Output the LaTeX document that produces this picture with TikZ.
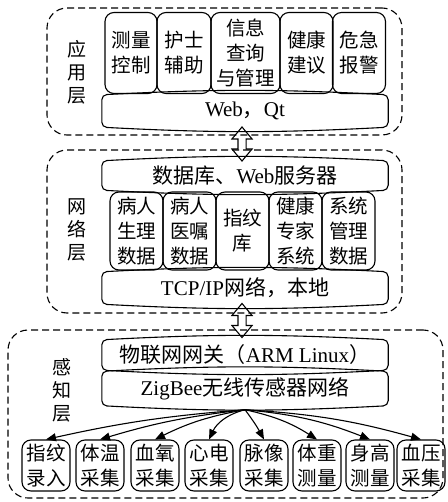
\documentclass[tikz,border=0pt]{standalone}
\usepackage{fontspec}
\setmainfont{Liberation Serif}
\newfontfamily\cjk{Noto Sans CJK SC}
\usetikzlibrary{shapes.arrows,arrows.meta}

\tikzset{
  layer/.style={draw,dash pattern=on 7pt off 4pt,line width=1.1pt,rounded corners=20pt,inner sep=0pt},
  tag/.style={align=center,inner sep=0pt,font=\cjk\fontsize{19}{23}\selectfont},
  box/.style={draw,line width=1.1pt,rounded corners=9pt,align=center,inner sep=0pt,
    font=\cjk\fontsize{19.5}{25}\selectfont},
  bar/.style={inner sep=0pt,minimum width=286pt,font=\fontsize{21}{24}\selectfont},
  updown/.style={draw,line width=1.1pt,shape=double arrow,rotate=90,inner sep=3.5pt,
    double arrow head extend=6pt,double arrow tip angle=80,minimum height=34pt},
}

% bar outline with bulged top and bottom
\newcommand\drawbar[1]{%
  \draw[line width=1.1pt,rounded corners=5pt] (#1.west) -- (#1.north west)
    to[bend left=3] (#1.north east) -- (#1.south east)
    to[bend left=3] (#1.south west) -- cycle;}

\begin{document}
\begin{tikzpicture}[x=1pt,y=-1pt]

  \useasboundingbox (0,0) rectangle (447,502);

  % three layers
  \begin{scope}[every node/.style={layer}]
    \node (app) at (224.5,71.5) [minimum width=355pt,minimum height=127pt] {};
    \node (net) at (224.5,231.5) [minimum width=355pt,minimum height=163pt] {};
    \node (sen) at (225.5,414) [minimum width=435pt,minimum height=168pt] {};
  \end{scope}

  \begin{scope}[every node/.style={tag}]
    \node (appt) at (77,72) {应\\用\\层};
    \node (nett) at (77,230) {网\\络\\层};
    \node (sent) at (62,390) {感\\知\\层};
  \end{scope}

  % application layer
  \begin{scope}[every node/.style={box,minimum height=81pt}]
    \node (a1) at (131,53) [minimum width=52pt] {测量\\控制};
    \node (a2) at (184,53) [minimum width=54pt] {护士\\辅助};
    \node (a3) at (245.5,53) [minimum width=69pt] {信息\\查询\\与管理};
    \node (a4) at (306.5,53) [minimum width=53pt] {健康\\建议};
    \node (a5) at (359,53) [minimum width=53pt] {危急\\报警};
  \end{scope}

  \node[bar,minimum height=32pt] (web) at (245,111) {Web{\cjk ，}Qt};
  \drawbar{web}

  % network layer
  \node[bar,minimum height=29pt] (db) at (245,175.5) {{\cjk 数据库、}Web{\cjk 服务器}};
  \drawbar{db}

  \begin{scope}[every node/.style={box,minimum height=78pt,minimum width=53pt}]
    \node (n1) at (136.5,231) {病人\\生理\\数据};
    \node (n2) at (189.5,231) {病人\\医嘱\\数据};
    \node (n3) at (242.5,231) {指纹\\库};
    \node (n4) at (295.5,231) {健康\\专家\\系统};
    \node (n5) at (348.5,231) {系统\\管理\\数据};
  \end{scope}

  \node[bar,minimum height=32pt] (tcp) at (245,288) {TCP/IP{\cjk 网络，本地}};
  \drawbar{tcp}

  % sensing layer
  \node[bar,minimum height=30pt] (gw) at (245,355) {{\cjk 物联网网关（}ARM Linux{\cjk ）}};
  \drawbar{gw}
  \node[bar,minimum height=34pt] (zb) at (245,388.5) {ZigBee{\cjk 无线传感器网络}};
  \drawbar{zb}

  \begin{scope}[every node/.style={box,minimum height=51pt,minimum width=48pt}]
    \node (s1) at (46,465.5) {指纹\\录入};
    \node (s2) at (100,465.5) {体温\\采集};
    \node (s3) at (155,465.5) {血氧\\采集};
    \node (s4) at (209,465.5) {心电\\采集};
    \node (s5) at (264,465.5) {脉像\\采集};
    \node (s6) at (317,465.5) {体重\\测量};
    \node (s7) at (370,465.5) {身高\\测量};
    \node (s8) at (421,465.5) {血压\\采集};
  \end{scope}

  % links between layers
  \node[updown] (up1) at (242,144) {};
  \node[updown] (up2) at (242,320.5) {};

  \coordinate (hub) at ([yshift=-4pt]zb.south);
  \begin{scope}[line width=1.1pt,-{Triangle[length=10pt,width=8pt]}]
    \path (hub) edge[bend right=4] (s1.north);
    \path (hub) edge[bend right=5] (s2.north);
    \path (hub) edge[bend right=8] (s3.north);
    \path (hub) edge[bend right=25] (s4.north);
    \path (hub) edge[bend left=4] (s5.north);
    \path (hub) edge[bend left=10] (s6.north);
    \path (hub) edge[bend left=8] (s7.north);
    \path (hub) edge[bend left=6] (s8.north);
  \end{scope}

\end{tikzpicture}
\end{document}
